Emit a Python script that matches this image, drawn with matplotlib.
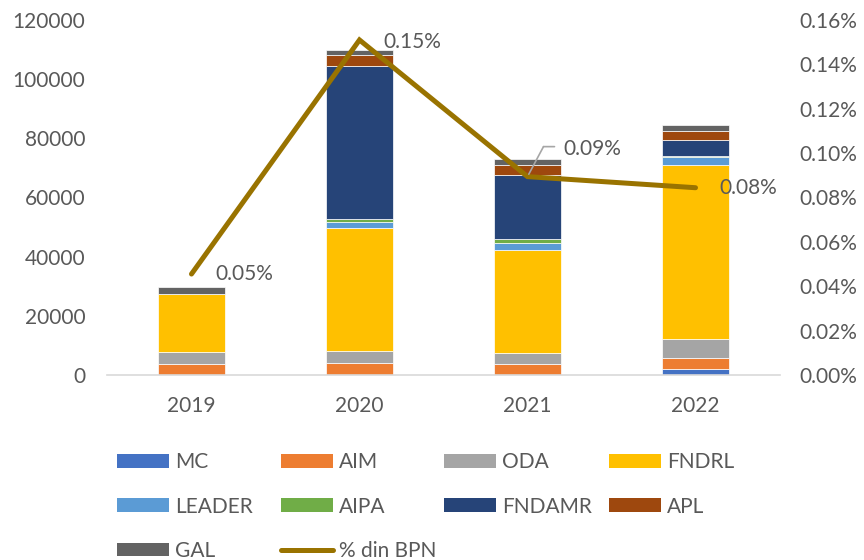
import numpy as np
import matplotlib.pyplot as plt
from matplotlib.patches import Patch
from matplotlib.lines import Line2D
from matplotlib.ticker import FuncFormatter
from matplotlib.transforms import offset_copy

plt.rcParams['font.family'] = ['Lato', 'DejaVu Sans']

# Data
years = ['2019', '2020', '2021', '2022']
mc = [0, 0, 0, 1900]
aim = [3600, 4200, 3600, 3900]
oda = [4200, 3900, 3900, 6400]
fndrl = [19700, 41500, 34800, 58900]
leader = [0, 2200, 2350, 2600]
aipa = [0, 800, 1350, 300]
fndamr = [0, 52000, 21700, 5500]
apl = [0, 3400, 3400, 2900]
gal = [2300, 2000, 2000, 2250]
pct_bpn = [0.0455, 0.151, 0.0894, 0.0844]  # in percent
pct_labels = ['0.05%', '0.15%', '0.09%', '0.08%']

series = [('MC', mc, '#4472C4'), ('AIM', aim, '#ED7D31'), ('ODA', oda, '#A5A5A5'),
          ('FNDRL', fndrl, '#FFC000'), ('LEADER', leader, '#5B9BD5'),
          ('AIPA', aipa, '#70AD47'), ('FNDAMR', fndamr, '#264478'),
          ('APL', apl, '#9E480E'), ('GAL', gal, '#636363')]
line_color = '#997300'
txt = '#595959'
fs = 15

fig = plt.figure(figsize=(8.64, 5.6), dpi=100)
ax = fig.add_axes([0.1244, 0.3304, 0.7778, 0.6339])
x = np.arange(len(years))

# Stacked bars
bottom = np.zeros(len(years))
for name, vals, col in series:
    ax.bar(x, vals, 0.4, bottom=bottom, color=col, edgecolor='white', linewidth=0.5, label=name)
    bottom += np.array(vals)

ax.set_xlim(-0.5, 3.5)
ax.set_ylim(0, 120000)
ax.set_yticks(np.arange(0, 120001, 20000))
ax.set_xticks(x)
ax.set_xticklabels(years)
for s in ['top', 'right', 'left']:
    ax.spines[s].set_visible(False)
ax.spines['bottom'].set_color('#D9D9D9')
ax.spines['bottom'].set_linewidth(1.2)
ax.tick_params(axis='x', length=0, pad=15, labelsize=fs, labelcolor=txt)
ax.tick_params(axis='y', length=0, pad=16, labelsize=fs, labelcolor=txt)

# Line on secondary axis
ax2 = ax.twinx()
ax2.plot(x, pct_bpn, color=line_color, linewidth=3.6, solid_capstyle='round', solid_joinstyle='miter')
ax2.set_ylim(0, 0.16)
ax2.set_yticks(np.arange(0, 0.161, 0.02))
ax2.yaxis.set_major_formatter(FuncFormatter(lambda v, p: f'{v:.2f}%'))
for s in ['top', 'right', 'left', 'bottom']:
    ax2.spines[s].set_visible(False)
ax2.tick_params(axis='y', length=0, pad=14, labelsize=fs, labelcolor=txt)

# Data labels
offsets = [(24, 0), (24, -2), (36, 28), (24, 0)]
for i, (lab, off) in enumerate(zip(pct_labels, offsets)):
    ax2.annotate(lab, (x[i], pct_bpn[i]), xytext=off, textcoords='offset pixels',
                 ha='left', va='center', fontsize=fs, color=txt)

# Leader line for the 2021 label
lead_x = [0, 16, 27]
lead_y = [0, 30, 30]
pts = [offset_copy(ax2.transData, fig=fig, x=dx, y=dy, units='dots') for dx, dy in zip(lead_x, lead_y)]
for j in range(len(lead_x) - 1):
    ax2.annotate('', xy=(x[2], pct_bpn[2]), xycoords=pts[j],
                 xytext=(x[2], pct_bpn[2]), textcoords=pts[j + 1],
                 arrowprops=dict(arrowstyle='-', color='#A6A6A6', lw=1.2,
                                 shrinkA=0, shrinkB=0 if j else 2))

# Legend, Excel-style equal columns
handles = {name: Patch(facecolor=col, edgecolor='none') for name, vals, col in series}
handles['% din BPN'] = Line2D([0], [0], color=line_color, lw=3.6, solid_capstyle='round')
columns = [['MC', 'LEADER', 'GAL'], ['AIM', 'AIPA', '% din BPN'],
           ['ODA', 'FNDAMR'], ['FNDRL', 'APL']]
col_x = [0.1354, 0.3252, 0.5139, 0.7049]
for cx, names in zip(col_x, columns):
    leg = fig.legend([handles[n] for n in names], names, loc='upper left',
                     bbox_to_anchor=(cx, 0.192), frameon=False, fontsize=fs,
                     handlelength=2.5, handleheight=0.65, handletextpad=0.3,
                     labelspacing=1.16, borderpad=0, borderaxespad=0)
    for t in leg.get_texts():
        t.set_color(txt)

plt.savefig('out.png', dpi=100)
